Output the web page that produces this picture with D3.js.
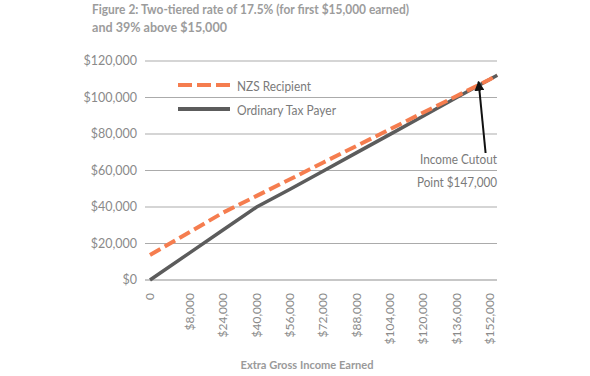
<!DOCTYPE html>
<html>
<head>
<meta charset="utf-8">
<script src="https://cdn.jsdelivr.net/npm/d3@7"></script>
<style>
  html, body { margin: 0; padding: 0; background: #fff; }
  svg { display: block; }
  text { font-family: Lato, "Open Sans", sans-serif; }
</style>
</head>
<body>
<svg id="chart" width="590" height="376"></svg>
<script>
// ---- data ----
const titleLines = ["Figure 2: Two-tiered rate of 17.5% (for first $15,000 earned)", "and 39% above $15,000"];
const incomes = [0, 8000, 24000, 40000, 56000, 72000, 88000, 104000, 120000, 136000, 152000, 155500];
const tickLabels = ["0", "$8,000", "$24,000", "$40,000", "$56,000", "$72,000", "$88,000", "$104,000", "$120,000", "$136,000", "$152,000"];
const ordinaryTaxPayer = [0, 15000, 27500, 40000, 49700, 59700, 69800, 79800, 89900, 100000, 110000, 112200];
const nzsRecipient = [13700, 26400, 37000, 46100, 55200, 64400, 73500, 82600, 91800, 100800, 110000, 112200];
const yTicks = [0, 20000, 40000, 60000, 80000, 100000, 120000];
const seriesNames = ["NZS Recipient", "Ordinary Tax Payer"];
const annotation = ["Income Cutout", "Point $147,000"];
const cutoutIncome = 147000;
const xTitle = "Extra Gross Income Earned";

// ---- layout ----
const svg = d3.select("#chart");
const grid = { left: 145, right: 497 };
const x = d3.scaleLinear().domain([0, 8000, 152000]).range([150, 190, 490]);
const y = d3.scaleLinear().domain([0, 120000]).range([280, 61]);
const textGray = "#8a8a8a";
const orange = "#F57D4F";
const dark = "#5c5c5c";

// title
svg.append("g").selectAll("text").data(titleLines).join("text")
  .attr("x", 92).attr("y", (d, i) => 13.5 + i * 18.5)
  .attr("font-size", 13.5).attr("font-weight", "bold").attr("fill", "#9c9c9c")
  .attr("textLength", (d, i) => i === 0 ? 317 : 135)
  .attr("lengthAdjust", "spacingAndGlyphs")
  .text(d => d);

// gridlines
svg.append("g").selectAll("line").data(yTicks).join("line")
  .attr("x1", grid.left).attr("x2", grid.right)
  .attr("y1", d => y(d)).attr("y2", d => y(d))
  .attr("stroke", d => d === 0 ? "#8f8f8f" : "#ababab").attr("stroke-width", 1);

// y labels
const fmt = d3.format("$,");
svg.append("g").selectAll("text").data(yTicks).join("text")
  .attr("x", 137).attr("y", d => y(d)).attr("dy", "0.35em")
  .attr("text-anchor", "end").attr("font-size", 12.5).attr("fill", textGray)
  .text(d => fmt(d));

// x labels (rotated)
svg.append("g").selectAll("text").data(tickLabels).join("text")
  .attr("transform", (d, i) => `translate(${x(incomes[i]) + 4},293) rotate(-90)`)
  .attr("text-anchor", "end").attr("font-size", 12).attr("fill", textGray)
  .text(d => d);

// x title
svg.append("text").attr("x", 307).attr("y", 369)
  .attr("text-anchor", "middle").attr("font-size", 12).attr("font-weight", "bold")
  .attr("fill", "#9a9a9a").attr("textLength", 133).attr("lengthAdjust", "spacingAndGlyphs")
  .text(xTitle);

// lines
const line = d3.line().x((d, i) => x(incomes[i])).y(d => y(d));
svg.append("path").datum(ordinaryTaxPayer).attr("d", line)
  .attr("fill", "none").attr("stroke", dark).attr("stroke-width", 3.5);
svg.append("path").datum(nzsRecipient).attr("d", line)
  .attr("fill", "none").attr("stroke", orange).attr("stroke-width", 4)
  .attr("stroke-dasharray", "12,5");

// legend
const legend = svg.append("g");
seriesNames.forEach((name, i) => {
  const ly = 85 + i * 24;
  legend.append("line").attr("x1", 178).attr("x2", 230).attr("y1", ly).attr("y2", ly)
    .attr("stroke", i === 0 ? orange : dark).attr("stroke-width", 4)
    .attr("stroke-dasharray", i === 0 ? "14,5" : null);
  legend.append("text").attr("x", 237).attr("y", ly + 1).attr("dy", "0.35em")
    .attr("font-size", 13).attr("fill", "#7a7a7a")
    .attr("textLength", i === 0 ? 74 : 99).attr("lengthAdjust", "spacingAndGlyphs")
    .text(name);
});

// annotation
svg.append("g").selectAll("text").data(annotation).join("text")
  .attr("x", 497).attr("y", (d, i) => 160 + i * 23).attr("dy", "0.35em")
  .attr("text-anchor", "end").attr("font-size", 12.5).attr("fill", "#7a7a7a")
  .attr("textLength", (d, i) => i === 0 ? 77 : 80).attr("lengthAdjust", "spacingAndGlyphs")
  .text(d => d);

svg.append("defs").append("marker").attr("id", "arrow")
  .attr("viewBox", "0 0 10 10").attr("refX", 9).attr("refY", 5)
  .attr("markerWidth", 5).attr("markerHeight", 5).attr("orient", "auto")
  .append("path").attr("d", "M0,0L10,5L0,10Z").attr("fill", "#111");
const cutX = x(cutoutIncome);
svg.append("line").attr("x1", cutX + 6).attr("y1", 153)
  .attr("x2", cutX - 1).attr("y2", y(107000) - 3)
  .attr("stroke", "#111").attr("stroke-width", 2)
  .attr("marker-end", "url(#arrow)");
</script>
</body>
</html>
